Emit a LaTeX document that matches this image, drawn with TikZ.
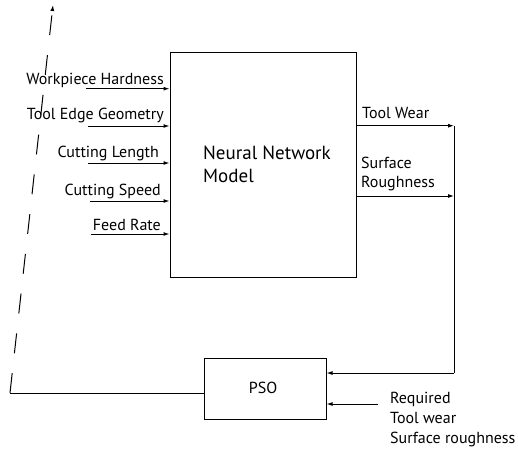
\documentclass[tikz,border=0pt]{standalone}
\usepackage{fontspec}
\setmainfont{PT Sans}
\usetikzlibrary{arrows.meta}
\begin{document}
\begin{tikzpicture}[x=1pt,y=-1pt,
  lbl/.style={inner sep=0pt,font=\fontsize{16}{20}\selectfont},
  blk/.style={draw,line width=1pt},
  conn/.style={line width=1pt,-{Latex[length=6pt,width=4pt]}},
  line/.style={line width=1pt}]
\useasboundingbox (0,0) rectangle (518,450);
% blocks
\node[blk,minimum width=186pt,minimum height=225pt,inner sep=0pt] (nn) at (263,164.5) {};
\node[blk,minimum width=122pt,minimum height=61pt,inner sep=0pt] (pso) at (265,388.5) {};
\node[lbl,font=\fontsize{19}{23}\selectfont,anchor=base west,align=left] (nnt) at (203,182) {Neural Network\\Model};
\node[lbl,anchor=base] (psot) at (263,393) {PSO};
% inputs
\coordinate (i1) at (86,88.7);
\coordinate (i2) at (88,126);
\coordinate (i3) at (88,163);
\coordinate (i4) at (90,201);
\coordinate (i5) at (91,234);
\draw[conn] (i1) -- (i1 -| nn.west);
\draw[conn] (i2) -- (i2 -| nn.west);
\draw[conn] (i3) -- (i3 -| nn.west);
\draw[conn] (i4) -- (i4 -| nn.west);
\draw[conn] (i5) -- (i5 -| nn.west);
\node[lbl,anchor=base east] (l1) at (164,84) {Workpiece Hardness};
\node[lbl,anchor=base east] (l2) at (164,119.5) {Tool Edge Geometry};
\node[lbl,anchor=base east] (l3) at (159,157) {Cutting Length};
\node[lbl,anchor=base east] (l4) at (161,195) {Cutting Speed};
\node[lbl,anchor=base east] (l5) at (161,230) {Feed Rate};
% outputs
\coordinate (o1) at (454,125.7);
\coordinate (o2) at (454,196);
\coordinate (o3) at (454,373);
\draw[conn] (o1 -| nn.east) -- (o1);
\draw[conn] (o2 -| nn.east) -- (o2);
\draw[line] (o1) -- (o3);
\draw[conn] (o3) -- (o3 -| pso.east);
\node[lbl,anchor=base west] (ot1) at (362,118) {Tool Wear};
\node[lbl,font=\fontsize{16}{19}\selectfont,anchor=base west,align=left] (ot2) at (361,187) {Surface\\Roughness};
% required
\coordinate (r1) at (378,404);
\draw[conn] (r1) -- (r1 -| pso.east);
\node[lbl,anchor=base west,align=left] (rt) at (390,443) {Required\\Tool wear\\Surface roughness};
% feedback
\coordinate (c1) at (10,393);
\coordinate (c2) at (53,5);
\draw[line] (c1 -| pso.west) -- (c1);
\draw[line,dash pattern=on 20pt off 20pt,-{Latex[length=6pt,width=4pt]}] (c1) -- (c2);
\end{tikzpicture}
\end{document}
